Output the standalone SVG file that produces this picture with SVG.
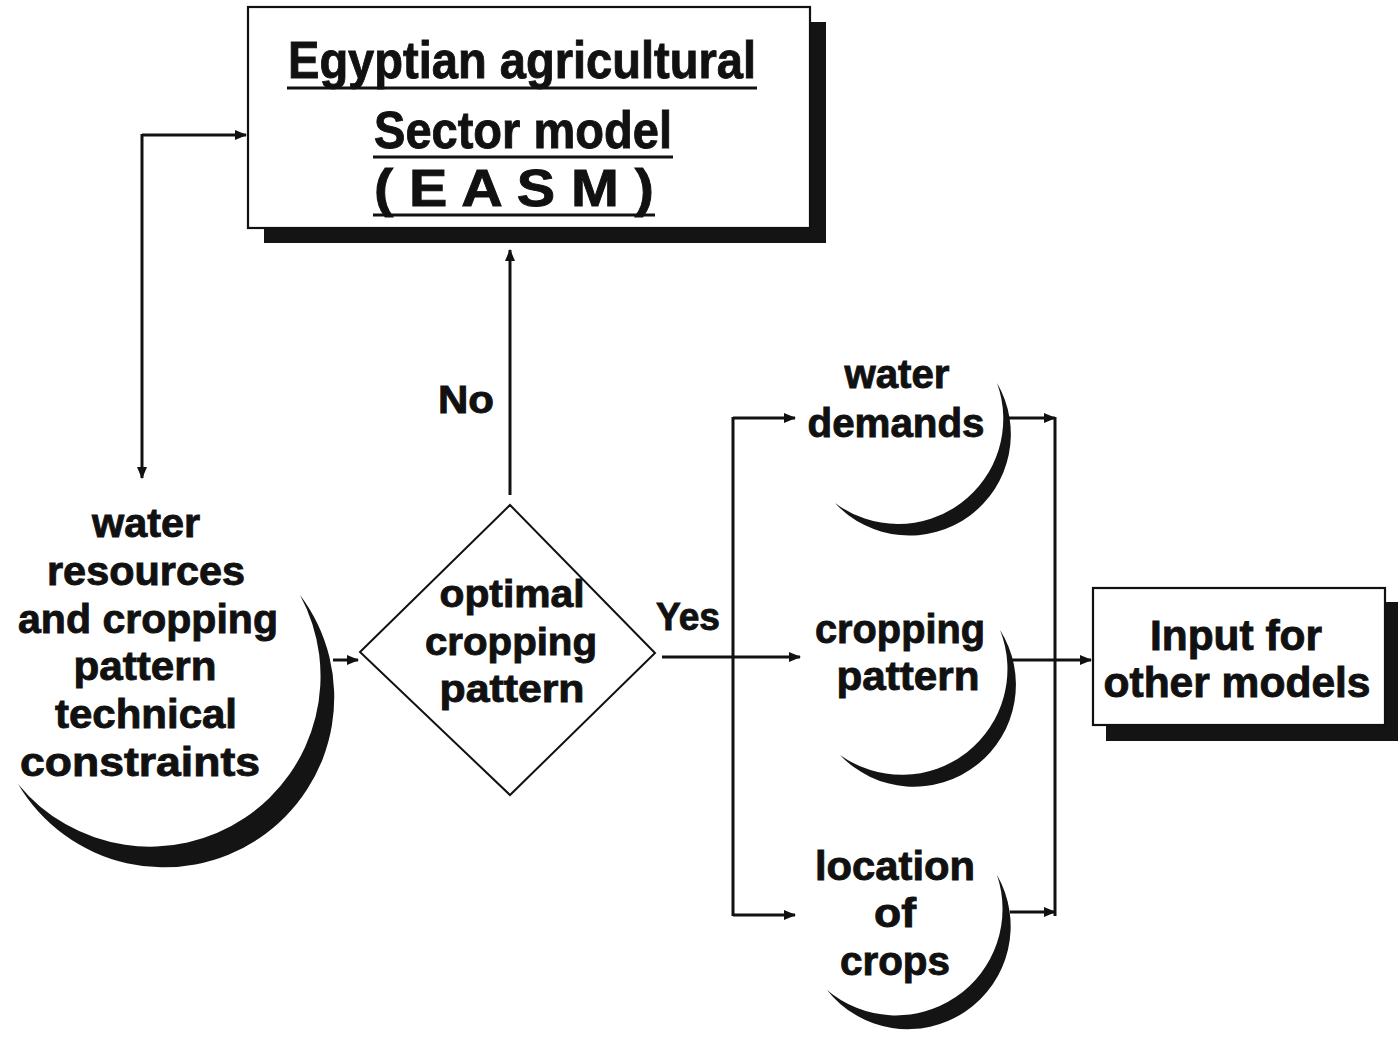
<svg xmlns="http://www.w3.org/2000/svg" width="1399" height="1041" viewBox="0 0 1399 1041">
  <defs>
    <marker id="arr" viewBox="0 0 12 10" refX="11" refY="5" markerWidth="13" markerHeight="10" markerUnits="userSpaceOnUse" orient="auto">
      <path d="M0,0 L12,5 L0,10 Z" fill="#111"/>
    </marker>
  </defs>
  <style>
    .lbl { font-family: "Liberation Sans", Arial, sans-serif; font-weight: bold; fill: #111; stroke: #111; stroke-width: 0.9; text-anchor: middle; }
    .box { fill: #fff; stroke: #111; stroke-width: 2.2; }
    .shadow { fill: #141414; }
    .moon { fill: #141414; }
    .wire { fill: none; stroke: #111; stroke-width: 3; }
    .ul { stroke: #111; stroke-width: 3; }
  </style>
  <rect width="1399" height="1041" fill="#fff"/>

  <!-- sector model box -->
  <g id="easm">
    <rect class="shadow" x="264" y="22" width="562" height="221"/>
    <rect class="box" x="248" y="7" width="562" height="221"/>
    <text class="lbl" x="522" y="78" font-size="52" textLength="468" lengthAdjust="spacingAndGlyphs">Egyptian agricultural</text>
    <line class="ul" x1="287" y1="88" x2="757" y2="88"/>
    <text class="lbl" x="523" y="148" font-size="52" textLength="298" lengthAdjust="spacingAndGlyphs">Sector model</text>
    <line class="ul" x1="373" y1="157" x2="673" y2="157"/>
    <text class="lbl" x="514" y="206" font-size="52" textLength="280" lengthAdjust="spacingAndGlyphs">( E A S M )</text>
    <line class="ul" x1="373" y1="215" x2="655" y2="215"/>
  </g>

  <!-- resources and constraints -->
  <g id="constraints">
    <path class="moon" d="M300,595 A170,170 0 1,1 18,784 A170.5,170.5 0 0,0 300,595 Z"/>
    <text class="lbl" x="146" y="537" font-size="41" textLength="108" lengthAdjust="spacingAndGlyphs">water</text>
    <text class="lbl" x="146" y="585" font-size="41" textLength="198" lengthAdjust="spacingAndGlyphs">resources</text>
    <text class="lbl" x="148" y="633" font-size="41" textLength="260" lengthAdjust="spacingAndGlyphs">and cropping</text>
    <text class="lbl" x="145" y="680" font-size="41" textLength="143" lengthAdjust="spacingAndGlyphs">pattern</text>
    <text class="lbl" x="146" y="728" font-size="41" textLength="182" lengthAdjust="spacingAndGlyphs">technical</text>
    <text class="lbl" x="140" y="776" font-size="41" textLength="240" lengthAdjust="spacingAndGlyphs">constraints</text>
  </g>

  <!-- decision -->
  <g id="decision">
    <path d="M510,505 L655,653 L510,795 L360,652 Z" fill="#fff" stroke="#111" stroke-width="2"/>
    <text class="lbl" x="512" y="607" font-size="38" textLength="145" lengthAdjust="spacingAndGlyphs">optimal</text>
    <text class="lbl" x="511" y="655" font-size="38" textLength="172" lengthAdjust="spacingAndGlyphs">cropping</text>
    <text class="lbl" x="512" y="702" font-size="38" textLength="145" lengthAdjust="spacingAndGlyphs">pattern</text>
  </g>

  <!-- outputs -->
  <g id="water-demands">
    <path class="moon" d="M997,383 A101.4,101.4 0 0,1 835,503 A105.2,105.2 0 0,0 997,383 Z"/>
    <text class="lbl" x="897" y="388" font-size="40" textLength="105" lengthAdjust="spacingAndGlyphs">water</text>
    <text class="lbl" x="896" y="437" font-size="40" textLength="177" lengthAdjust="spacingAndGlyphs">demands</text>
  </g>
  <g id="cropping-pattern">
    <path class="moon" d="M1000,630 A102,102 0 0,1 840,755 A105.8,105.8 0 0,0 1000,630 Z"/>
    <text class="lbl" x="900" y="643" font-size="40" textLength="170" lengthAdjust="spacingAndGlyphs">cropping</text>
    <text class="lbl" x="908" y="690" font-size="40" textLength="143" lengthAdjust="spacingAndGlyphs">pattern</text>
  </g>
  <g id="crop-location">
    <path class="moon" d="M997,875 A102.9,102.9 0 0,1 827,990 A106.5,106.5 0 0,0 997,875 Z"/>
    <text class="lbl" x="895" y="880" font-size="40" textLength="160" lengthAdjust="spacingAndGlyphs">location</text>
    <text class="lbl" x="895" y="927" font-size="40" textLength="42" lengthAdjust="spacingAndGlyphs">of</text>
    <text class="lbl" x="895" y="975" font-size="40" textLength="110" lengthAdjust="spacingAndGlyphs">crops</text>
  </g>

  <!-- downstream models box -->
  <g id="other-models">
    <rect class="shadow" x="1106" y="602" width="292" height="139"/>
    <rect class="box" x="1093" y="588" width="292" height="137"/>
    <text class="lbl" x="1236" y="650" font-size="42" textLength="172" lengthAdjust="spacingAndGlyphs">Input for</text>
    <text class="lbl" x="1237" y="697" font-size="42" textLength="267" lengthAdjust="spacingAndGlyphs">other models</text>
  </g>

  <!-- flow lines -->
  <g id="connectors">
    <line class="wire" x1="142" y1="135" x2="246" y2="135" marker-end="url(#arr)"/>
    <line class="wire" x1="142" y1="134" x2="142" y2="478" marker-end="url(#arr)"/>
    <line class="wire" x1="510" y1="495" x2="510" y2="250" marker-end="url(#arr)"/>
    <line class="wire" x1="333" y1="660" x2="358" y2="660" marker-end="url(#arr)"/>
    <line class="wire" x1="662" y1="657" x2="800" y2="657" marker-end="url(#arr)"/>
    <line class="wire" x1="733" y1="417" x2="733" y2="916"/>
    <line class="wire" x1="733" y1="418" x2="795" y2="418" marker-end="url(#arr)"/>
    <line class="wire" x1="733" y1="915" x2="795" y2="915" marker-end="url(#arr)"/>
    <line class="wire" x1="1008" y1="418" x2="1055" y2="418" marker-end="url(#arr)"/>
    <line class="wire" x1="1055" y1="417" x2="1055" y2="916"/>
    <line class="wire" x1="1010" y1="912" x2="1055" y2="912" marker-end="url(#arr)"/>
    <line class="wire" x1="1012" y1="660" x2="1091" y2="660" marker-end="url(#arr)"/>
  </g>

  <!-- branch labels -->
  <g id="labels">
    <text class="lbl" x="466" y="413" font-size="38" textLength="56" lengthAdjust="spacingAndGlyphs">No</text>
    <text class="lbl" x="688" y="630" font-size="38" textLength="64" lengthAdjust="spacingAndGlyphs">Yes</text>
  </g>
</svg>
